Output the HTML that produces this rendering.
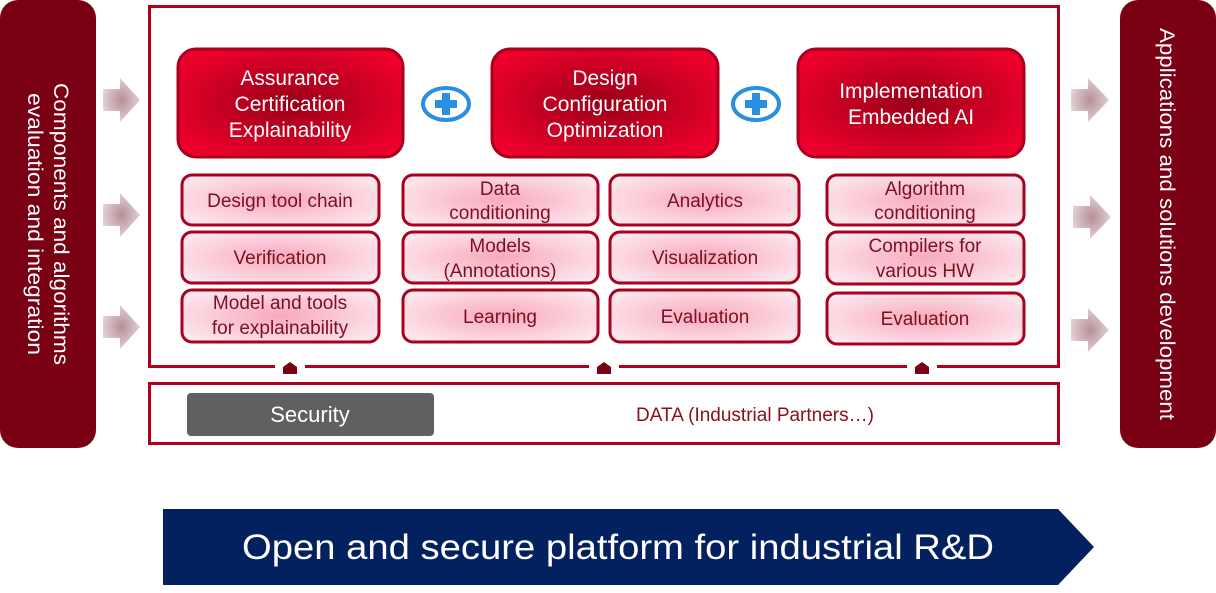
<!DOCTYPE html>
<html><head><meta charset="utf-8"><style>
html,body{margin:0;padding:0;background:#fff;}
svg{display:block;font-family:"Liberation Sans",sans-serif;}
</style></head><body>
<svg width="1216" height="593" viewBox="0 0 1216 593" xmlns="http://www.w3.org/2000/svg">
<defs>
<radialGradient id="big" cx="50%" cy="50%" r="60%">
<stop offset="0" stop-color="#9a0018"/><stop offset="1" stop-color="#ee002c"/>
</radialGradient>
<radialGradient id="sm" cx="50%" cy="50%" r="60%">
<stop offset="0" stop-color="#f8a9bd"/><stop offset="1" stop-color="#fde6ec"/>
</radialGradient>
<radialGradient id="arr" cx="50%" cy="50%" r="55%">
<stop offset="0" stop-color="#b88f98"/><stop offset="1" stop-color="#e3d6d8"/>
</radialGradient>
</defs>
<!-- side bars -->
<rect x="0" y="0" width="96" height="448" rx="18" fill="#7a0013"/>
<rect x="1120" y="0" width="96" height="448" rx="18" fill="#7a0013"/>
<g fill="#fff" font-size="21" text-anchor="middle">
<text transform="translate(54,224) rotate(90)" textLength="282" lengthAdjust="spacingAndGlyphs">Components and algorithms</text>
<text transform="translate(28,224) rotate(90)" textLength="262" lengthAdjust="spacingAndGlyphs">evaluation and integration</text>
<text transform="translate(1160,224) rotate(90)" textLength="392" lengthAdjust="spacingAndGlyphs">Applications and solutions development</text>
</g>
<!-- arrows -->
<g fill="url(#arr)">
<polygon points="103,89 120,89 120,78 140,100 120,122 120,111 103,111"/>
<polygon points="103,204 120,204 120,193 140,215 120,237 120,226 103,226"/>
<polygon points="103,316 120,316 120,305 140,327 120,349 120,338 103,338"/>
<polygon points="1071,89 1088,89 1088,78 1109,100 1088,122 1088,111 1071,111"/>
<polygon points="1073,206 1090,206 1090,195 1111,217 1090,239 1090,228 1073,228"/>
<polygon points="1071,319 1088,319 1088,308 1109,330 1088,352 1088,341 1071,341"/>
</g>
<!-- frames -->
<rect x="149.5" y="6.5" width="909" height="360" fill="#fff" stroke="#b0001e" stroke-width="3"/>
<rect x="149.5" y="383.5" width="909" height="60" fill="#fff" stroke="#b0001e" stroke-width="3"/>
<!-- houses -->
<g fill="#fff"><rect x="275" y="362" width="30" height="8"/><rect x="589" y="362" width="30" height="8"/><rect x="907" y="362" width="30" height="8"/></g>
<g fill="#7a0013">
<polygon points="283,367 290,362 297,367 297,374 283,374"/>
<polygon points="597,367 604,362 611,367 611,374 597,374"/>
<polygon points="915,367 922,362 929,367 929,374 915,374"/>
</g>
<!-- big boxes -->
<g fill="url(#big)" stroke="#a8001e" stroke-width="3">
<rect x="178" y="49" width="225" height="108" rx="18"/>
<rect x="492" y="49" width="226" height="108" rx="18"/>
<rect x="798" y="49" width="226" height="108" rx="18"/>
</g>
<g fill="#fff" font-size="21" text-anchor="middle">
<text x="290" y="85">Assurance</text><text x="290" y="111">Certification</text><text x="290" y="137">Explainability</text>
<text x="605" y="85">Design</text><text x="605" y="111">Configuration</text><text x="605" y="137">Optimization</text>
<text x="911" y="98">Implementation</text><text x="911" y="124">Embedded AI</text>
</g>
<!-- plus -->
<g>
<ellipse cx="446" cy="104" rx="23" ry="16" fill="#fff" stroke="#2a8fe0" stroke-width="4"/>
<rect x="435" y="100" width="22" height="8" fill="#2a8fe0"/><rect x="442" y="93" width="8" height="22" fill="#2a8fe0"/>
<ellipse cx="756" cy="104" rx="23" ry="16" fill="#fff" stroke="#2a8fe0" stroke-width="4"/>
<rect x="745" y="100" width="22" height="8" fill="#2a8fe0"/><rect x="752" y="93" width="8" height="22" fill="#2a8fe0"/>
</g>
<!-- small boxes -->
<g fill="url(#sm)" stroke="#a8001e" stroke-width="3">
<rect x="182" y="175" width="197" height="50" rx="10"/>
<rect x="182" y="232" width="197" height="51" rx="10"/>
<rect x="182" y="290" width="197" height="52" rx="10"/>
<rect x="403" y="175" width="195" height="50" rx="10"/>
<rect x="403" y="232" width="195" height="51" rx="10"/>
<rect x="403" y="290" width="195" height="52" rx="10"/>
<rect x="610" y="175" width="189" height="50" rx="10"/>
<rect x="610" y="232" width="189" height="51" rx="10"/>
<rect x="610" y="290" width="189" height="52" rx="10"/>
<rect x="827" y="175" width="197" height="50" rx="10"/>
<rect x="827" y="232" width="197" height="52" rx="10"/>
<rect x="827" y="293" width="197" height="51" rx="10"/>
</g>
<g fill="#7a1020" font-size="19" text-anchor="middle">
<text x="280" y="207">Design tool chain</text>
<text x="280" y="264">Verification</text>
<text x="280" y="309">Model and tools</text><text x="280" y="334">for explainability</text>
<text x="500" y="195">Data</text><text x="500" y="219">conditioning</text>
<text x="500" y="252">Models</text><text x="500" y="277">(Annotations)</text>
<text x="500" y="323">Learning</text>
<text x="705" y="207">Analytics</text>
<text x="705" y="264">Visualization</text>
<text x="705" y="323">Evaluation</text>
<text x="925" y="195">Algorithm</text><text x="925" y="219">conditioning</text>
<text x="925" y="252">Compilers for</text><text x="925" y="277">various HW</text>
<text x="925" y="325">Evaluation</text>
</g>
<!-- security/data -->
<rect x="187" y="393" width="247" height="43" rx="4" fill="#606060"/>
<text x="310" y="422" fill="#fff" font-size="22" text-anchor="middle">Security</text>
<text x="755" y="421" fill="#8a1020" font-size="19" text-anchor="middle">DATA (Industrial Partners…)</text>
<!-- banner -->
<polygon points="163,509 1058,509 1094,547 1058,585 163,585" fill="#03205f"/>
<text x="618" y="559" fill="#fff" font-size="35" text-anchor="middle" textLength="752" lengthAdjust="spacingAndGlyphs">Open and secure platform for industrial R&amp;D</text>
</svg>
</body></html>
